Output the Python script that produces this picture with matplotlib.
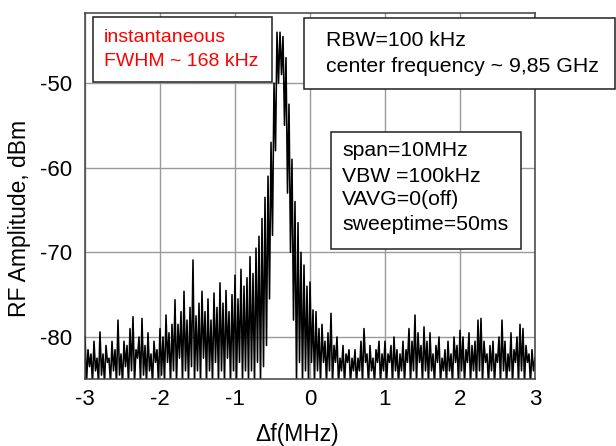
#!/usr/bin/env python3
"""
Recreate the RF beat-note spectrum of the 9.85 GHz oscillator.

The trace values are read off the analyzer screenshot, one row per 0.2 MHz
(alternating peak/dip samples, 0.02 MHz apart).
"""

import numpy as np
import matplotlib

matplotlib.use("Agg")
import matplotlib.pyplot as plt
from matplotlib.patches import Rectangle


FIG_W, FIG_H = 616, 446

freq_start_mhz = -3.0
freq_step_mhz = 0.02

amplitude_dbm = [
    -80.0, -85.5, -81.5, -83.5, -82.0, -85.5, -80.5, -84.0, -82.5, -85.5,  # -3.0
    -79.4, -84.5, -82.0, -85.5, -81.0, -83.0, -82.5, -85.5, -80.5, -84.0,  # -2.8
    -81.5, -85.5, -78.0, -84.5, -82.0, -85.5, -80.5, -83.5, -81.0, -85.5,  # -2.6
    -79.0, -84.0, -77.6, -85.5, -81.5, -82.5, -80.0, -85.5, -77.8, -84.5,  # -2.4
    -81.0, -85.5, -79.5, -84.0, -82.0, -85.5, -80.5, -83.0, -81.5, -85.5,  # -2.2
    -79.0, -84.5, -80.0, -85.5, -77.4, -83.0, -79.5, -85.5, -78.5, -84.0,  # -2.0
    -75.6, -85.5, -78.5, -82.5, -77.0, -85.5, -74.6, -84.0, -78.0, -85.5,  # -1.8
    -76.5, -83.5, -70.9, -85.5, -77.5, -84.0, -76.0, -85.5, -74.6, -82.5,  # -1.6
    -77.0, -85.5, -75.5, -84.0, -78.0, -85.5, -74.8, -83.0, -76.5, -85.5,  # -1.4
    -73.6, -84.0, -76.0, -85.5, -74.5, -82.5, -77.0, -85.5, -75.0, -84.0,  # -1.2
    -72.7, -85.5, -75.5, -83.0, -72.0, -85.5, -74.0, -84.0, -73.0, -85.5,  # -1.0
    -70.5, -84.0, -72.5, -85.5, -69.5, -83.0, -68.1, -85.5, -66.0, -83.5,  # -0.8
    -63.5, -81.0, -61.0, -75.5, -57.0, -68.0, -50.0, -58.0, -44.0, -50.0,  # -0.6
    -44.0, -49.0, -44.5, -55.0, -47.0, -63.0, -52.5, -70.0, -59.0, -78.0,  # -0.4
    -64.0, -85.5, -66.5, -83.0, -70.0, -85.5, -71.5, -84.0, -74.0, -85.5,  # -0.2
    -73.5, -83.0, -76.8, -85.5, -77.0, -84.0, -79.0, -85.5, -78.5, -83.0,  # 0.0
    -80.5, -85.5, -79.5, -84.0, -77.2, -85.5, -81.0, -83.0, -80.0, -85.5,  # 0.2
    -82.5, -84.0, -81.0, -85.5, -82.0, -83.0, -81.5, -85.5, -82.5, -84.0,  # 0.4
    -81.5, -85.5, -82.5, -84.0, -80.5, -85.5, -79.0, -83.0, -82.0, -85.5,  # 0.6
    -81.0, -84.0, -82.5, -85.5, -81.5, -83.0, -80.5, -85.5, -82.0, -84.0,  # 0.8
    -80.5, -85.5, -82.0, -83.0, -81.0, -85.5, -80.0, -84.0, -81.5, -85.5,  # 1.0
    -82.0, -84.0, -80.5, -85.5, -81.5, -83.0, -79.0, -85.5, -80.5, -84.0,  # 1.2
    -77.4, -85.5, -79.5, -83.0, -81.0, -85.5, -78.8, -84.0, -80.5, -85.5,  # 1.4
    -79.5, -84.0, -82.0, -85.5, -81.0, -83.0, -80.0, -85.5, -82.5, -84.0,  # 1.6
    -81.5, -85.5, -80.5, -84.0, -82.0, -85.5, -80.0, -83.0, -81.0, -85.5,  # 1.8
    -79.2, -84.0, -80.0, -85.5, -81.5, -83.0, -79.5, -85.5, -81.0, -84.0,  # 2.0
    -80.5, -85.5, -78.0, -84.0, -77.8, -85.5, -80.5, -83.0, -82.0, -85.5,  # 2.2
    -81.0, -84.0, -80.5, -85.5, -82.0, -83.0, -80.0, -85.5, -78.0, -84.0,  # 2.4
    -80.5, -85.5, -82.0, -84.0, -79.5, -85.5, -81.5, -83.0, -80.0, -85.5,  # 2.6
    -78.5, -84.0, -79.0, -85.5, -81.0, -83.0, -82.0, -85.5, -81.5, -84.0,  # 2.8
    -82.5,                                                                  # 3.0
]

x_ticks = [-3, -2, -1, 0, 1, 2, 3]
y_ticks = [-80, -70, -60, -50]

note_red = ["instantaneous", "FWHM ~ 168 kHz"]
note_rbw = ["RBW=100 kHz", "center frequency ~ 9,85 GHz"]
note_span = ["span=10MHz", "VBW =100kHz", "VAVG=0(off)", "sweeptime=50ms"]


def fx(px):
    return px / FIG_W


def fy(py):
    # py measured from the top of the picture
    return 1.0 - py / FIG_H


def add_box(fig, x0, y0, x1, y1):
    fig.add_artist(
        Rectangle(
            (fx(x0), fy(y1)),
            fx(x1) - fx(x0),
            fy(y0) - fy(y1),
            transform=fig.transFigure,
            facecolor="white",
            edgecolor="#202020",
            linewidth=1.1,
            zorder=5,
        )
    )


def add_lines(fig, x, centers, lines, color="black", size=14):
    for cy, line in zip(centers, lines):
        fig.text(fx(x), fy(cy), line, color=color, fontsize=size,
                 ha="left", va="center", zorder=6)


def main():
    plt.rcParams["font.family"] = ["Liberation Sans", "DejaVu Sans"]
    plt.rcParams["axes.unicode_minus"] = False

    freq = freq_start_mhz + freq_step_mhz * np.arange(len(amplitude_dbm))

    fig = plt.figure(figsize=(FIG_W / 100, FIG_H / 100), dpi=100)
    ax = fig.add_axes([fx(85), fy(379), fx(535) - fx(85), fy(13) - fy(379)])

    ax.plot(freq, amplitude_dbm, color="black", linewidth=1.15)

    ax.set_xlim(-3, 3)
    ax.set_ylim(-84.96, -41.73)
    ax.set_xticks(x_ticks)
    ax.set_xticklabels([str(t) for t in x_ticks])
    ax.set_yticks(y_ticks)
    ax.set_yticklabels([str(t) for t in y_ticks])
    ax.tick_params(length=0, labelsize=16, pad=7)
    ax.tick_params(axis="y", pad=9)
    ax.grid(True, color="#9a9a9a", linewidth=1.0)
    ax.set_axisbelow(True)
    for spine in ax.spines.values():
        spine.set_color("#404040")
        spine.set_linewidth(1.1)

    fig.text(fx(297), fy(435), "\u0394f(MHz)", fontsize=16.5, ha="center", va="center")
    fig.text(fx(20), fy(218), "RF Amplitude, dBm", fontsize=16.5, rotation=90,
             ha="center", va="center")

    add_box(fig, 93, 17, 272, 82)
    add_lines(fig, 104, [37, 62], note_red, color="#ff0000", size=14)

    add_box(fig, 304, 18, 615, 89)
    add_lines(fig, 326, [40, 66], note_rbw, size=15.3)

    add_box(fig, 331, 132, 521, 249)
    add_lines(fig, 342, [151, 176, 200, 225], note_span, size=15.3)

    fig.savefig("out.png", dpi=100)
    plt.close(fig)


if __name__ == "__main__":
    main()
